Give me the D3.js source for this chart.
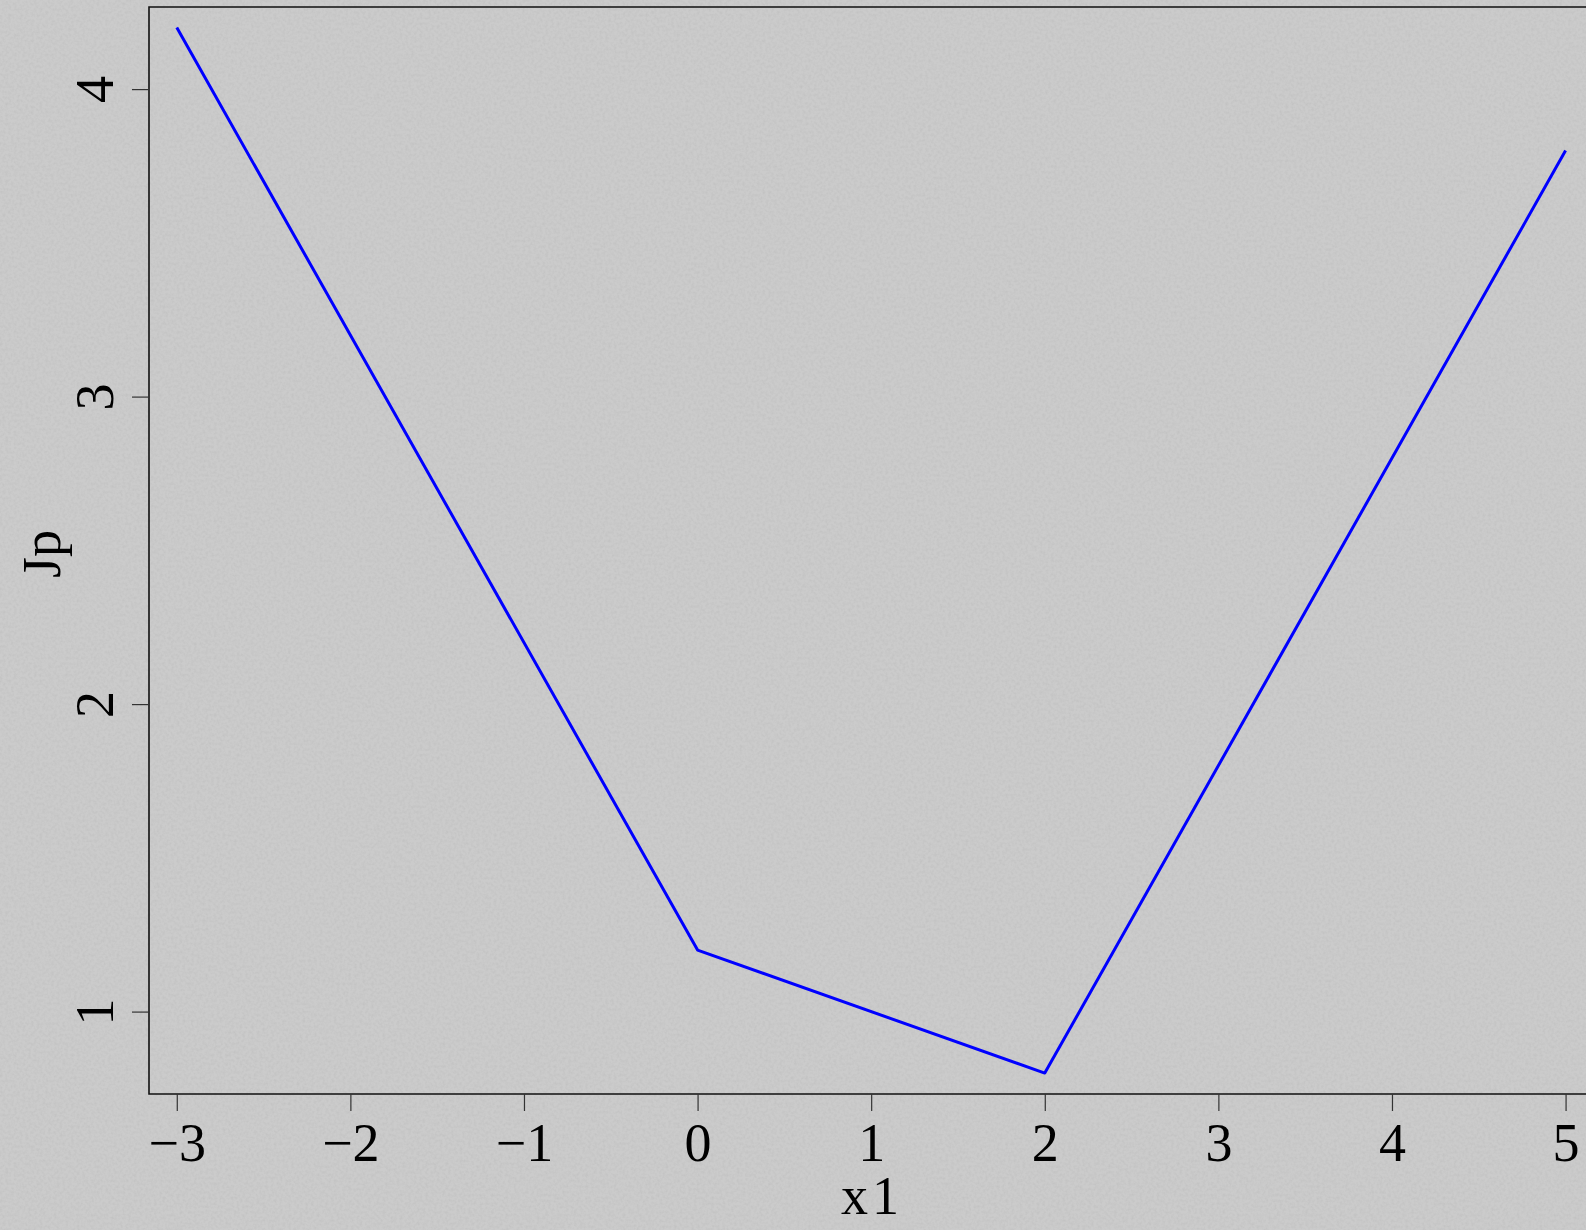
<!DOCTYPE html>
<html>
<head>
<meta charset="utf-8">
<script src="https://cdn.jsdelivr.net/npm/d3@7"></script>
<style>
    body { margin: 0; background: #cacaca; }
    svg { display: block; }
    text { font-family: "Liberation Serif", "DejaVu Serif", serif; fill: #000; }
</style>
</head>
<body>
<svg id="Target" width="1586" height="1230"></svg>
<script>
// data
const x1Values = [-3, 0, 2, 5];
const jpValues = [4.2, 1.2, 0.8, 3.8];
const xTicks = [-3, -2, -1, 0, 1, 2, 3, 4, 5];
const yTicks = [1, 2, 3, 4];

const width = 1586, height = 1230;
const margin = { left: 149, top: 7, bottom: 1094 };

const svg = d3.select("#Target");

// noisy paper-like background
const defs = svg.append("defs");
const noise = defs.append("filter")
    .attr("id", "noise")
    .attr("x", 0).attr("y", 0)
    .attr("width", "100%").attr("height", "100%");
noise.append("feTurbulence")
    .attr("type", "fractalNoise")
    .attr("baseFrequency", 0.35)
    .attr("numOctaves", 2)
    .attr("seed", 3);
noise.append("feColorMatrix")
    .attr("type", "matrix")
    .attr("values", "0 0 0 0 0.45  0 0 0 0 0.45  0 0 0 0 0.45  0 0 0 -1.6 1.0");

svg.append("rect")
    .attr("width", width).attr("height", height)
    .attr("fill", "#cbcbcb");
svg.append("rect")
    .attr("width", width).attr("height", height)
    .attr("filter", "url(#noise)")
    .attr("opacity", 0.4);

// scales
const x = d3.scaleLinear()
    .domain([-3.16, 5.16])
    .range([margin.left, 149 + 8.32 * 173.6]);

const y = d3.scaleLinear()
    .domain([0.732, 4.267])
    .range([margin.bottom, margin.top]);

// plot frame (left, top, bottom; the right side runs off the page)
svg.append("path")
    .attr("d", `M${x.range()[1]},${margin.top} H${margin.left} V${margin.bottom} H${x.range()[1]}`)
    .attr("fill", "none")
    .attr("stroke", "#111")
    .attr("stroke-width", 1.6);

// x axis
const xAxis = svg.append("g")
    .attr("transform", `translate(0, ${margin.bottom})`)
    .call(d3.axisBottom(x)
        .tickValues(xTicks)
        .tickSize(17)
        .tickPadding(12)
        .tickFormat(d => d < 0 ? "\u2212" + Math.abs(d) : d));
xAxis.select(".domain").remove();
xAxis.selectAll(".tick line").attr("stroke", "#333").attr("stroke-width", 1.2);
xAxis.selectAll(".tick text")
    .attr("font-size", 54)
    .attr("font-family", "Liberation Serif")
    .attr("fill", "#000");

// y axis
const yAxis = svg.append("g")
    .attr("transform", `translate(${margin.left}, 0)`)
    .call(d3.axisLeft(y)
        .tickValues(yTicks)
        .tickSize(17)
        .tickFormat(d3.format("d")));
yAxis.select(".domain").remove();
yAxis.selectAll(".tick line").attr("stroke", "#333").attr("stroke-width", 1.2);
yAxis.selectAll(".tick text")
    .attr("font-size", 54)
    .attr("font-family", "Liberation Serif")
    .attr("fill", "#000")
    .attr("x", null).attr("dy", null)
    .attr("text-anchor", "middle")
    .attr("transform", "translate(-54, 0) rotate(-90)")
    .attr("dominant-baseline", "central");

// axis titles
svg.append("text")
    .attr("x", 872)
    .attr("y", 1214)
    .attr("text-anchor", "middle")
    .attr("font-size", 54)
    .attr("letter-spacing", 4)
    .text("x1");

svg.append("text")
    .attr("transform", "translate(60, 554) rotate(-90)")
    .attr("text-anchor", "middle")
    .attr("font-size", 54)
    .text("Jp");

// the line
const line = d3.line()
    .x((d, i) => x(x1Values[i]))
    .y(d => y(d));

svg.append("path")
    .datum(jpValues)
    .attr("d", line)
    .attr("fill", "none")
    .attr("stroke", "#0000ff")
    .attr("stroke-width", 3)
    .attr("stroke-linejoin", "round");
</script>
</body>
</html>
